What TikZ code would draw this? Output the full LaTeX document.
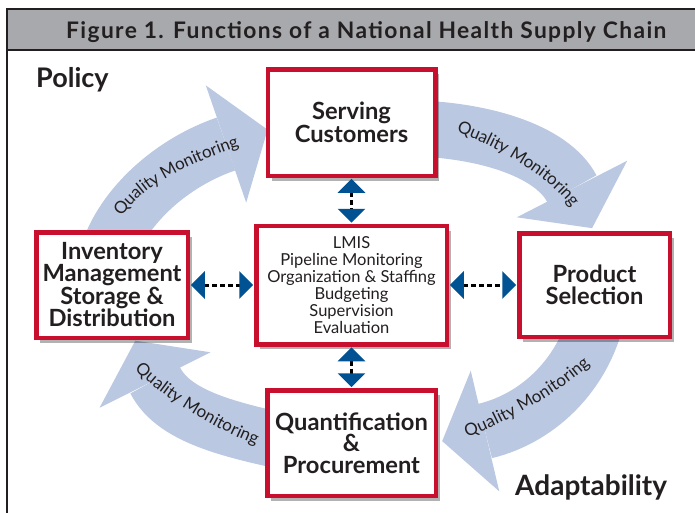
\documentclass[tikz,border=0pt]{standalone}
\usepackage{fontspec}
\setmainfont{Lato}
\newfontfamily\headfont[LetterSpace=6]{Lato}
\usetikzlibrary{arrows.meta,calc,shadows,decorations.text}
\definecolor{boxred}{RGB}{200,16,46}
\definecolor{flowblue}{RGB}{186,200,225}
\definecolor{tipblue}{RGB}{0,82,147}
\definecolor{bargray}{RGB}{167,169,172}
\definecolor{inkgray}{RGB}{35,31,32}
\newcommand\qmfont{\fontsize{17}{20}\selectfont}
\tikzset{
    fn/.style={draw=boxred, line width=4.5pt, fill=white, inner sep=0pt, outer sep=0pt,
        align=center, text=inkgray, font=\bfseries\fontsize{23.7}{21.5}\selectfont,
        drop shadow={shadow xshift=4pt, shadow yshift=-5pt, fill=black, opacity=0.3}},
    core/.style={fn, font=\fontsize{16.5}{17}\selectfont, minimum width=190.5pt, minimum height=118.5pt},
    link/.style={draw=black, line width=3pt, dash pattern=on 5pt off 3pt,
        {Triangle[length=14pt, width=27pt, color=tipblue]}-{Triangle[length=14pt, width=27pt, color=tipblue]},
        shorten <=3pt, shorten >=3pt},
    flow/.style={draw=flowblue, line width=56pt},
    qm/.style={decorate, decoration={text along path, text align=center, raise=-5pt,
        text color=inkgray, text={|\qmfont|Quality Monitoring}}}
}
% wide curved arrow: start, two controls, end of shaft
\def\Flow#1#2#3#4{
    \draw[flow] #1 .. controls #2 and #3 .. #4;
    \fill[flowblue] ($#4!62pt!90:#3$) -- ($#4!-44pt!#3$) -- ($#4!62pt!-90:#3$) -- cycle;
}
\begin{document}
\begin{tikzpicture}[x=1pt, y=-1pt]
    \useasboundingbox (0,0) rectangle (695,512);
    \clip (0,0) rectangle (695,512);
    % frame and title bar
    \fill[bargray] (7,9) rectangle (740,50);
    \draw[inkgray, line width=2.5pt] (7,560) -- (7,9) -- (740,9);
    \draw[inkgray, line width=2.5pt] (7,50) -- (740,50);
    \node[anchor=base west, inner sep=0pt, text=inkgray, font=\headfont\bfseries\fontsize{22.8}{23}\selectfont]
        (title) at (66,38.5) {Figure 1. Functions of a National Health Supply Chain};
    \node[anchor=base west, inner sep=0pt, text=inkgray, font=\bfseries\fontsize{27}{27}\selectfont]
        (policy) at (36,87) {Policy};
    \node[anchor=base west, inner sep=0pt, text=inkgray, font=\bfseries\fontsize{28}{28}\selectfont]
        (adapt) at (515,495) {Adaptability};
    % ring of arrows
    \Flow{(105,265)}{(115,215)}{(165,165)}{(226,144)}
    \Flow{(400,128)}{(480,128)}{(552,150)}{(572,189)}
    \Flow{(600,300)}{(590,370)}{(540,418)}{(485,431)}
    \Flow{(310,447)}{(240,432)}{(175,420)}{(155,380)}
    \path[qm] (113,222) .. controls (135,178) and (200,155) .. (247,138);
    \path[qm] (447,123) .. controls (494,138) and (560,175) .. (582,214);
    \path[qm] (459,435) .. controls (501,420) and (560,387) .. (592,356);
    \path[qm] (133,360) .. controls (159,391) and (223,428) .. (265,443);
    % the five functions
    \node[fn, minimum width=167.5pt, minimum height=106.5pt] (serve) at (351.5,122.5) {Serving\\Customers};
    \node[core] (core) at (351.5,285) {LMIS\\Pipeline Monitoring\\Organization \& Staffing\\Budgeting\\Supervision\\Evaluation};
    \node[fn, minimum width=151.5pt, minimum height=105.5pt] (stock) at (112,285) {Inventory\\Management\\Storage \&\\Distribution};
    \node[fn, minimum width=150.5pt, minimum height=103.5pt] (select) at (594.5,285) {Product\\Selection};
    \node[fn, minimum width=168.5pt, minimum height=105.5pt] (quant) at (351.5,443) {Quantification\\\&\\Procurement};
    \draw[link] (serve) -- (core);
    \draw[link] (core) -- (quant);
    \draw[link] (stock) -- (core);
    \draw[link] (core) -- (select);
\end{tikzpicture}
\end{document}
